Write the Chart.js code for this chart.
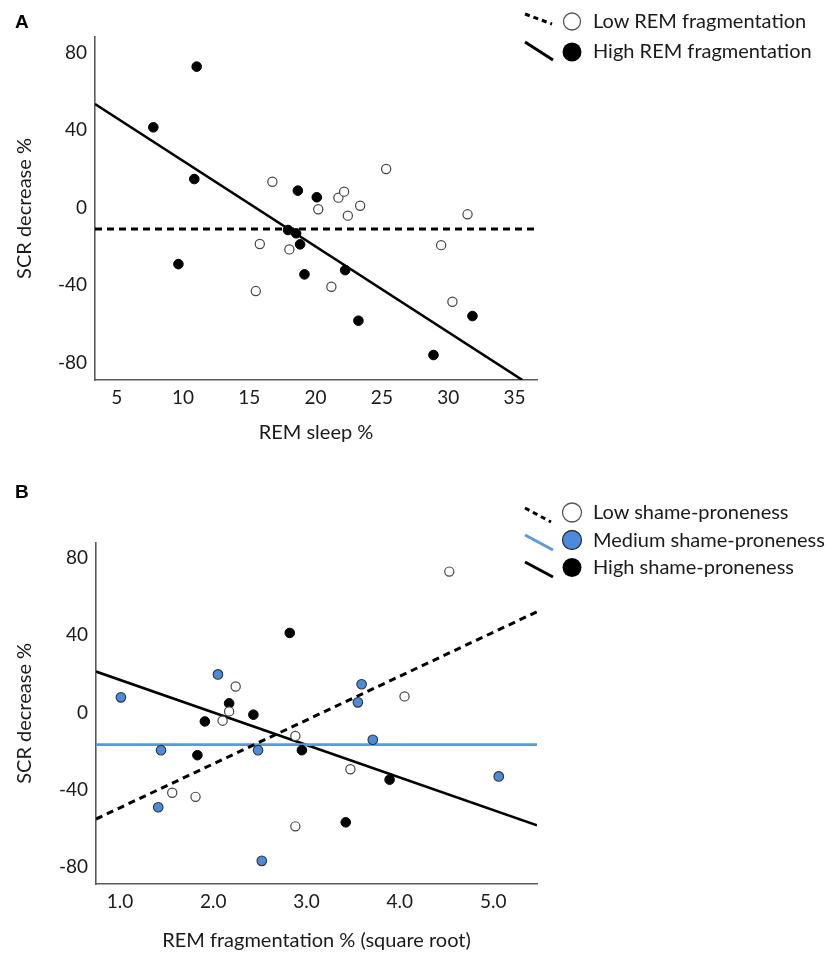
<!DOCTYPE html>
<html>
<head>
<meta charset="utf-8">
<script src="https://cdn.jsdelivr.net/npm/chart.js@4"></script>
<style>
  html, body { margin: 0; padding: 0; background: #fff; }
  body { width: 832px; height: 957px; position: relative; overflow: hidden; font-family: Lato, "Liberation Sans", sans-serif; color: #1a1a1a; }
  canvas { position: absolute; left: 0; }
  #cA { top: 0; }
  #cB { top: 470px; }
  .panel { position: absolute; font-family: "Liberation Sans", Arial, sans-serif; font-weight: bold; font-size: 19px; color: #000; }
  .leg { position: absolute; left: 593px; font-size: 20px; line-height: 24px; white-space: nowrap; color: #1a1a1a; }
  svg.sym { position: absolute; left: 0; top: 0; overflow: visible; }
</style>
</head>
<body>
<canvas id="cA" width="832" height="470"></canvas>
<canvas id="cB" width="832" height="487"></canvas>

<div class="panel" style="left:15px; top:11px;">A</div>
<div class="panel" style="left:15px; top:481px;">B</div>

<svg class="sym" width="832" height="957">
  <!-- Panel A legend symbols -->
  <line x1="525" y1="14" x2="552" y2="24" stroke="#000" stroke-width="3" stroke-dasharray="5,4"/>
  <circle cx="572" cy="21.5" r="8.5" fill="#fff" stroke="#555" stroke-width="1.3"/>
  <line x1="525" y1="42" x2="553" y2="60" stroke="#000" stroke-width="3"/>
  <circle cx="572" cy="52" r="9.5" fill="#000"/>
  <!-- Panel B legend symbols -->
  <line x1="525" y1="508" x2="551" y2="522" stroke="#000" stroke-width="3" stroke-dasharray="5,4"/>
  <circle cx="572" cy="512.5" r="9.5" fill="#fff" stroke="#555" stroke-width="1.3"/>
  <line x1="525" y1="535" x2="553" y2="550" stroke="#5B9BD5" stroke-width="3"/>
  <circle cx="572" cy="540" r="9.5" fill="#4A8BDD" stroke="#333" stroke-width="1.3"/>
  <line x1="525" y1="562" x2="553" y2="577" stroke="#000" stroke-width="3"/>
  <circle cx="572" cy="567.5" r="9.5" fill="#000"/>
</svg>

<div class="leg" style="top:8px;">Low REM fragmentation</div>
<div class="leg" style="top:38px;">High REM fragmentation</div>
<div class="leg" style="top:499px;">Low shame-proneness</div>
<div class="leg" style="top:527px;">Medium shame-proneness</div>
<div class="leg" style="top:554px;">High shame-proneness</div>

<script>
// ---------------- Panel A data ----------------
const lowFragREM  = [16.74, 15.79, 18.02, 15.49, 20.2, 21.72, 22.15, 23.36, 22.43, 25.32, 31.46, 29.47, 21.19, 30.32];
const lowFragSCR  = [13.3, -18.8, -21.6, -43.1, -0.9, 5.1, 8.2, 0.9, -4.2, 19.9, -3.5, -19.4, -40.9, -48.6];
const highFragREM = [11.03, 7.76, 10.85, 9.65, 18.66, 20.09, 17.92, 18.53, 18.83, 19.16, 22.23, 23.23, 31.83, 28.89];
const highFragSCR = [72.7, 41.4, 14.7, -29.2, 8.7, 5.3, -11.6, -13.3, -19.0, -34.5, -32.3, -58.4, -56.0, -76.1];
// fit lines (end points)
const lowFragFitX  = [3.36, 36.7];
const lowFragFitY  = [-11.1, -11.1];
const highFragFitX = [3.36, 35.6];
const highFragFitY = [53.4, -89];
const xTicksA = [5, 10, 15, 20, 25, 30, 35];

// ---------------- Panel B data ----------------
const lowShameFrag = [2.24, 2.17, 2.10, 2.88, 1.56, 1.81, 2.88, 4.53, 4.05, 3.47];
const lowShameSCR  = [13.4, 0.5, -4.3, -12.2, -41.7, -43.8, -59.1, 73.0, 8.3, -29.5];
const medShameFrag = [1.01, 1.44, 1.41, 2.05, 2.48, 2.52, 3.59, 3.55, 3.71, 5.06];
const medShameSCR  = [7.8, -19.6, -49.2, 19.7, -19.6, -77.0, 14.6, 5.2, -14.2, -33.2];
const highShameFrag = [2.82, 2.17, 1.91, 2.43, 1.83, 2.95, 3.89, 3.42];
const highShameSCR  = [41.2, 4.7, -4.7, -1.2, -22.2, -19.6, -34.9, -57.0];
const lowShameFitX  = [0.743, 5.47];
const lowShameFitY  = [-55.3, 52.2];
const medShameFitX  = [0.743, 5.47];
const medShameFitY  = [-16.7, -16.7];
const highShameFitX = [0.743, 5.47];
const highShameFitY = [21.2, -58.6];
const xTicksB = [1, 2, 3, 4, 5];

const yTicks = [-80, -40, 0, 40, 80];

// ---------------- helpers ----------------
const zip = (xs, ys) => xs.map((x, i) => ({x: x, y: ys[i]}));
const FONT = 'Lato, "Liberation Sans", sans-serif';
Chart.defaults.font.family = FONT;
Chart.defaults.color = '#1a1a1a';

function pts(label, xs, ys, fill, stroke, bw, r) {
  return {
    type: 'scatter', label: label, data: zip(xs, ys), order: 0,
    backgroundColor: fill, borderColor: stroke, borderWidth: bw,
    pointRadius: r, pointHoverRadius: r, showLine: false
  };
}
function fit(label, xs, ys, color, dashed) {
  return {
    type: 'scatter', label: label, data: zip(xs, ys), order: 1,
    showLine: true, pointRadius: 0, pointHoverRadius: 0,
    borderColor: color, backgroundColor: color,
    borderWidth: dashed ? 3 : 2.6, borderDash: dashed ? [7, 5] : [],
    fill: false
  };
}

function makeChart(canvasId, datasets, o) {
  return new Chart(document.getElementById(canvasId), {
    type: 'scatter',
    data: { datasets: datasets },
    options: {
      responsive: false, maintainAspectRatio: false, animation: false,
      devicePixelRatio: 1,
      layout: { padding: { left: 0, top: o.top, right: 832 - o.right, bottom: 0 } },
      plugins: { legend: { display: false }, tooltip: { enabled: false } },
      scales: {
        x: {
          type: 'linear', position: 'bottom', min: o.xmin, max: o.xmax,
          afterBuildTicks: s => { s.ticks = o.xTicks.map(v => ({value: v})); },
          afterFit: s => { s.height = o.canvasH - o.bottom; },
          grid: { display: false, drawTicks: false },
          border: { display: true, color: '#5a5a5a', width: 1.6 },
          ticks: { padding: o.xTickPad, font: { size: 19 }, color: '#1a1a1a', maxRotation: 0,
                   callback: o.xFmt },
          title: { display: true, text: o.xTitle, font: { size: 20 }, color: '#1a1a1a',
                   padding: { top: 0, bottom: o.xTitlePad } }
        },
        y: {
          type: 'linear', position: 'left', min: -89, max: 88,
          afterBuildTicks: s => { s.ticks = yTicks.map(v => ({value: v})); },
          afterFit: s => { s.width = o.left; },
          grid: { display: false, drawTicks: false },
          border: { display: true, color: '#5a5a5a', width: 1.6 },
          ticks: { padding: 8, font: { size: 19 }, color: '#1a1a1a' },
          title: { display: true, text: 'SCR decrease %', font: { size: 20 }, color: '#1a1a1a',
                   padding: { top: 13, bottom: 0 } }
        }
      }
    }
  });
}

makeChart('cA', [
  pts('Low REM fragmentation', lowFragREM, lowFragSCR, '#ffffff', '#444444', 1.2, 4.6),
  pts('High REM fragmentation', highFragREM, highFragSCR, '#000000', '#000000', 1, 4.8),
  fit('Low REM fragmentation fit', lowFragFitX, lowFragFitY, '#000000', true),
  fit('High REM fragmentation fit', highFragFitX, highFragFitY, '#000000', false)
], { canvasH: 470, left: 95, right: 537, top: 37, bottom: 380,
     xmin: 3.36, xmax: 36.7, xTicks: xTicksA, xTitle: 'REM sleep %',
     xTickPad: 6, xTitlePad: 25, xFmt: v => String(v) });

makeChart('cB', [
  pts('Low shame-proneness', lowShameFrag, lowShameSCR, '#ffffff', '#444444', 1.2, 4.6),
  pts('Medium shame-proneness', medShameFrag, medShameSCR, '#4A8BDD', '#333333', 1.1, 4.8),
  pts('High shame-proneness', highShameFrag, highShameSCR, '#000000', '#000000', 1, 4.8),
  fit('Low shame-proneness fit', lowShameFitX, lowShameFitY, '#000000', true),
  fit('Medium shame-proneness fit', medShameFitX, medShameFitY, '#5B9BD5', false),
  fit('High shame-proneness fit', highShameFitX, highShameFitY, '#000000', false)
], { canvasH: 487, left: 96, right: 537, top: 72.7, bottom: 414,
     xmin: 0.743, xmax: 5.47, xTicks: xTicksB, xTitle: 'REM fragmentation % (square root)',
     xTickPad: 6, xTitlePad: 4, xFmt: v => Number(v).toFixed(1) });
</script>
</body>
</html>
